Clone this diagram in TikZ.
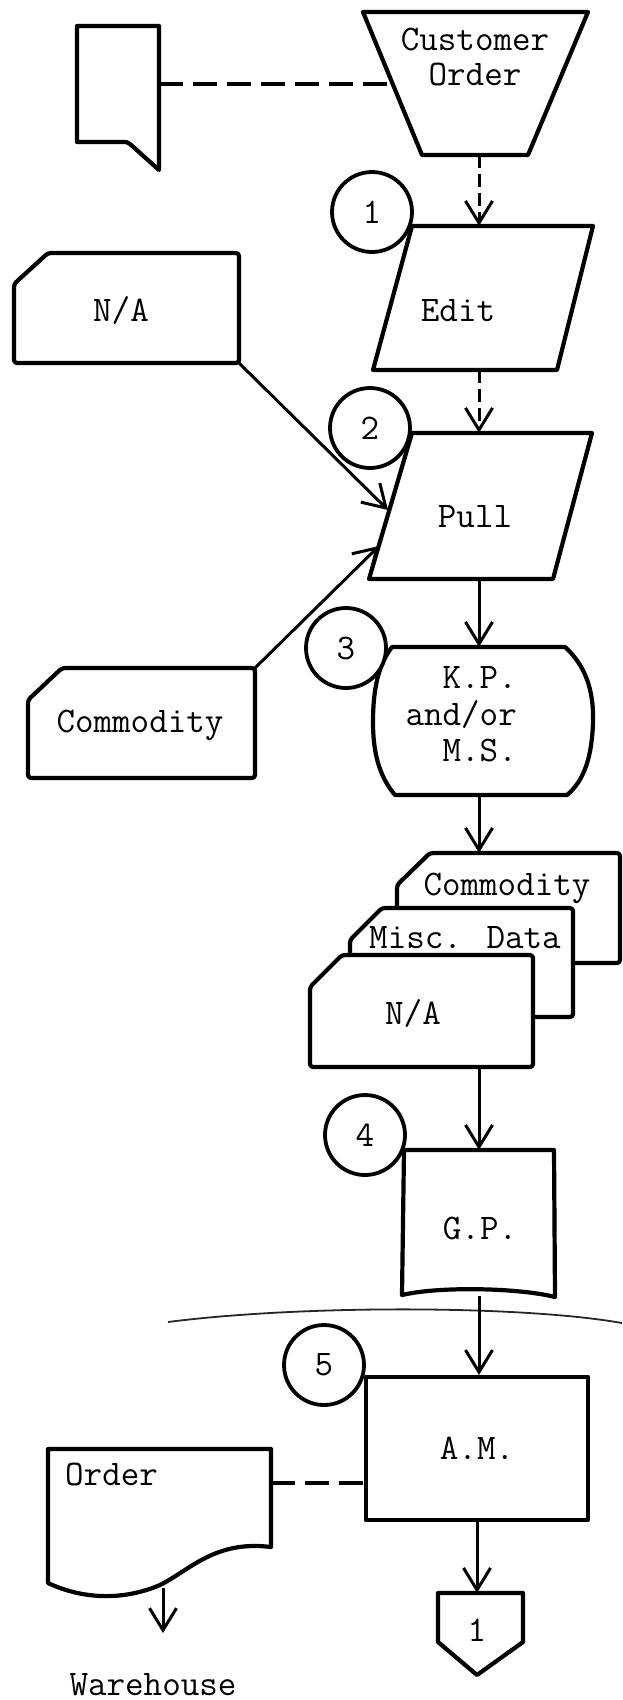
\documentclass[tikz,border=0pt]{standalone}
\usetikzlibrary{arrows.meta,calc}
\begin{document}
\begin{tikzpicture}[x=1pt,y=-1pt,
  txt/.style={font=\fontsize{36}{35}\selectfont\ttfamily, inner sep=0pt, align=center},
  frame/.style 2 args={inner sep=0pt, minimum width=#1, minimum height=#2},
  outline/.style={draw, line width=4.2pt, line join=round, fill=white},
  seq/.style={circle, draw, fill=white, line width=3.8pt, minimum size=80pt, inner sep=0pt,
    font=\fontsize{36}{35}\selectfont\ttfamily},
  flow/.style={line width=3pt, -{Straight Barb[length=22pt,width=27pt,line width=3pt]}},
  dflow/.style={flow, dash pattern=on 13pt off 6pt},
  link/.style={line width=3.3pt, dash pattern=on 24pt off 10pt},
]
\useasboundingbox (0,0) rectangle (622,1700);

% main column of the flow
\coordinate (col) at (479,0);

% ---- unlabelled document flag
\draw[outline] (77,26) -- (159,26) -- (159,170) -- (130,144)
  .. controls (127,142) .. (122,142) -- (77,142) -- cycle;
\node[frame={82pt}{116pt}] (flag) at (118,84) {};

% ---- customer order (manual input trapezoid)
\draw[outline] (363,12) -- (588,12) -- (528,155) -- (422,155) -- cycle;
\node[frame={225pt}{143pt}] (custF) at (475.5,83.5) {};
\node[txt] (cust) at (475,57) {Customer\\Order};
\coordinate (custL) at (393,84);

% ---- edit (parallelogram)
\draw[outline] (412,226) -- (593,226) -- (557,370) -- (373,370) -- cycle;
\node[frame={220pt}{144pt}] (editF) at (483,298) {};
\node[txt] (edit) at (458,311) {Edit};

% ---- pull (parallelogram)
\draw[outline] (412,433) -- (592,433) -- (553,579) -- (369,579) -- cycle;
\node[frame={223pt}{146pt}] (pullF) at (480.5,506) {};
\node[txt] (pull) at (475,517) {Pull};
\coordinate (pullA) at (388,510);
\coordinate (pullB) at (379,546);

% ---- input cards on the left
\draw[outline, rounded corners=3pt] (48,253) -- (239,253) -- (239,363) -- (14,363) -- (14,284) -- cycle;
\node[frame={225pt}{110pt}] (naF) at (126.5,308) {};
\node[txt] (na) at (121,310) {N/A};

\draw[outline, rounded corners=3pt] (62,668) -- (255,668) -- (255,778) -- (28,778) -- (28,700) -- cycle;
\node[frame={227pt}{110pt}] (comF) at (141.5,723) {};
\node[txt] (com) at (140,725) {Commodity};

% ---- K.P. and/or M.S. (curved-side process)
\draw[outline] (392,647) -- (565,647)
  .. controls (585,665) and (594,690) .. (593,722)
  .. controls (592,755) and (585,780) .. (567,795)
  -- (395,795)
  .. controls (378,775) and (373,750) .. (373,722)
  .. controls (373,690) and (378,665) .. cycle;
\node[frame={220pt}{148pt}] (kpF) at (483,721) {};
\node[txt, align=right, font=\fontsize{36}{36.5}\selectfont\ttfamily, anchor=east]
  (kp) at (517,714.5) {K.P.\\and/or\\M.S.};

% ---- stacked card deck
\draw[outline, rounded corners=3pt] (430,853) -- (620,853) -- (620,963) -- (397,963) -- (397,885) -- cycle;
\node[frame={223pt}{110pt}] (cardC) at (508.5,908) {};
\node[txt] (cardCt) at (507,888) {Commodity};

\draw[outline, rounded corners=3pt] (382,908) -- (573,908) -- (573,1017) -- (350,1017) -- (350,940) -- cycle;
\node[frame={223pt}{109pt}] (cardM) at (461.5,962.5) {};
\node[txt] (cardMt) at (465,938) {Misc. Data};

\draw[outline, rounded corners=3pt] (342,955) -- (533,955) -- (533,1067) -- (310,1067) -- (310,987) -- cycle;
\node[frame={223pt}{112pt}] (cardN) at (421.5,1011) {};
\node[txt] (cardNt) at (413,1013) {N/A};

% ---- G.P.
\draw[outline] (404,1150) -- (554,1150) -- (555,1297)
  .. controls (520,1288) and (440,1286) .. (402,1295) -- cycle;
\node[frame={150pt}{146pt}] (gpF) at (479,1223) {};
\node[txt] (gp) at (480,1228) {G.P.};

% ---- torn edge across the sheet
\draw[line width=1.8pt, black!85] (168,1322) .. controls (300,1305) and (520,1305) .. (622,1323);

% ---- A.M.
\node[outline, txt, rectangle, minimum width=222pt, minimum height=143pt] (am) at (477,1448.5) {A.M.};

% ---- order document
\draw[outline] (48,1449) -- (271,1449) -- (271,1547)
  .. controls (215,1540) and (190,1570) .. (160,1585)
  .. controls (120,1602) and (80,1598) .. (48,1583) -- cycle;
\node[frame={223pt}{134pt}] (ordF) at (159.5,1516) {};
\node[txt, anchor=base west] (ord) at (65,1485) {Order};
\coordinate (ordR) at (271,1483);
\coordinate (ordB) at (163,1588);
\coordinate (whTip) at (163,1633);
\node[txt, anchor=base] (wh) at (153,1695) {Warehouse};

% ---- off-page connector
\draw[outline] (438,1593) -- (523,1593) -- (523,1642) -- (477,1675) -- (438,1642) -- cycle;
\node[frame={85pt}{82pt}] (offp) at (480.5,1634) {};
\node[txt] (offpt) at (477,1630) {1};

% ---- step numbers
\node[seq] (s1) at (372,212) {1};
\node[seq] (s2) at (370,428) {2};
\node[seq] (s3) at (346,648) {3};
\node[seq] (s4) at (365,1135) {4};
\node[seq] (s5) at (324,1365) {5};

% ---- connectors
\draw[link] (flag.east) -- (custL);
\draw[dflow] (custF.south -| col) -- (editF.north -| col);
\draw[dflow] (editF.south -| col) -- (pullF.north -| col);
\draw[flow] (naF.south east) -- (pullA);
\draw[flow] (comF.north east) -- (pullB);
\draw[flow] (pullF.south -| col) -- (kpF.north -| col);
\draw[flow] (kpF.south -| col) -- (cardC.north -| col);
\draw[flow] (cardN.south -| gpF.north) -- (gpF.north);
\draw[flow] (gpF.south) -- (gpF.south |- am.north);
\draw[flow] (am.south) -- (am.south |- offp.north);
\draw[link] (ordR) -- (ordR -| am.west);
\draw[flow] (ordB) -- (whTip);
\end{tikzpicture}
\end{document}
